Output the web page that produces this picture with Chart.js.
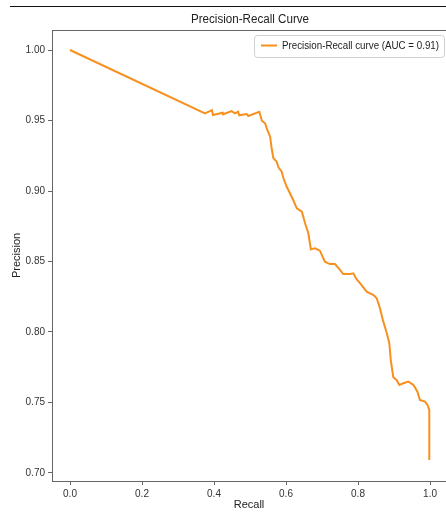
<!DOCTYPE html>
<html>
<head>
<meta charset="utf-8">
<script src="https://cdn.jsdelivr.net/npm/chart.js@4.4.0/dist/chart.umd.min.js"></script>
<style>
  html, body { margin: 0; padding: 0; background: #fff; }
  #wrap { width: 446px; height: 512px; }
</style>
</head>
<body>
<div id="wrap"><canvas id="prChart" width="446" height="512"></canvas></div>
<script>
// Values
const recall = [
  0.000, 0.375, 0.394, 0.397, 0.424, 0.425, 0.449, 0.458, 0.467, 0.470,
  0.491, 0.495, 0.526, 0.533, 0.542, 0.548, 0.556, 0.560, 0.565, 0.574,
  0.579, 0.588, 0.593, 0.602, 0.611, 0.620, 0.630, 0.644, 0.653, 0.662,
  0.669, 0.681, 0.694, 0.708, 0.722, 0.736, 0.750, 0.759, 0.778, 0.787,
  0.796, 0.806, 0.824, 0.843, 0.852, 0.861, 0.869, 0.880, 0.887, 0.891,
  0.898, 0.907, 0.915, 0.926, 0.940, 0.954, 0.965, 0.972, 0.986, 0.993,
  0.998, 0.998
];
const precision = [
  1.000, 0.9551, 0.9574, 0.9539, 0.9555, 0.9544, 0.9567, 0.9551, 0.9562, 0.9537,
  0.9546, 0.9532, 0.9562, 0.9499, 0.9480, 0.9433, 0.9385, 0.9303, 0.9232, 0.9208,
  0.9168, 0.9137, 0.9090, 0.9030, 0.8984, 0.8936, 0.8877, 0.8853, 0.8771, 0.8700,
  0.8587, 0.8594, 0.8577, 0.8499, 0.8482, 0.8482, 0.8440, 0.8411, 0.8411, 0.8416,
  0.8374, 0.8345, 0.8286, 0.8262, 0.8239, 0.8168, 0.8085, 0.7991, 0.7920, 0.7801,
  0.7679, 0.7660, 0.7624, 0.7636, 0.7648, 0.7624, 0.7577, 0.7518, 0.7506, 0.7482,
  0.7447, 0.7092
];
const xTicks = [0.0, 0.2, 0.4, 0.6, 0.8, 1.0];
const yTicks = [0.70, 0.75, 0.80, 0.85, 0.90, 0.95, 1.00];
const titleText = 'Precision-Recall Curve';
const seriesLabel = 'Precision-Recall curve (AUC = 0.91)';

const FONT = 'Liberation Sans';
const ORANGE = '#f7901e';
const SPINE = '#666';

// squeeze text a little horizontally, the source picture is narrow
function narrowText(ctx, text, x, y, width, align) {
  const w = ctx.measureText(text).width;
  const k = width / w;
  ctx.save();
  ctx.translate(align === 'center' ? x - width / 2 : x, y);
  ctx.scale(k, 1);
  ctx.textAlign = 'left';
  ctx.fillText(text, 0, 0);
  ctx.restore();
}

// title, frame, legend box and the stray top rule of the screenshot
const framePlugin = {
  id: 'frame',
  afterDraw(chart) {
    const { ctx, chartArea: a } = chart;
    ctx.save();
    ctx.strokeStyle = '#111';
    ctx.lineWidth = 1;
    ctx.beginPath();
    ctx.moveTo(10, 6.5);
    ctx.lineTo(446, 6.5);
    ctx.stroke();

    ctx.strokeStyle = SPINE;
    ctx.strokeRect(a.left + 0.5, a.top + 0.5, a.right - a.left + 4, a.bottom - a.top);

    // title, centred on the full axes box (it runs past the right edge)
    ctx.fillStyle = '#222';
    ctx.textBaseline = 'middle';
    ctx.font = '12px "' + FONT + '"';
    narrowText(ctx, titleText, 250, 20, 118, 'center');

    // legend
    const bx = 254, by = 35, bw = 190, bh = 22;
    ctx.fillStyle = 'rgba(255,255,255,0.85)';
    ctx.strokeStyle = '#d0d0d0';
    ctx.beginPath();
    ctx.roundRect(bx + 0.5, by + 0.5, bw, bh, 3);
    ctx.fill();
    ctx.stroke();
    ctx.strokeStyle = ORANGE;
    ctx.lineWidth = 2;
    ctx.beginPath();
    ctx.moveTo(261, 45.5);
    ctx.lineTo(277, 45.5);
    ctx.stroke();
    ctx.fillStyle = '#222';
    ctx.font = '11px "' + FONT + '"';
    narrowText(ctx, chart.data.datasets[0].label, 282, 46, 157, 'left');
    ctx.restore();
  }
};

new Chart(document.getElementById('prChart'), {
  type: 'line',
  data: {
    datasets: [{
      label: seriesLabel,
      data: recall.map((r, i) => ({ x: r, y: precision[i] })),
      borderColor: ORANGE,
      borderWidth: 2,
      pointRadius: 0,
      tension: 0,
      fill: false
    }]
  },
  options: {
    responsive: false,
    animation: false,
    layout: { padding: { left: 0, right: 0, top: 30, bottom: 0 }, autoPadding: false },
    plugins: {
      legend: { display: false },
      tooltip: { enabled: false },
      title: { display: false }
    },
    scales: {
      x: {
        type: 'linear',
        min: -0.05,
        max: 1.0444,
        afterBuildTicks: s => { s.ticks = xTicks.map(v => ({ value: v })); },
        afterFit: s => { s.height = 31; },
        ticks: {
          color: '#333',
          padding: 3,
          font: { family: FONT, size: 10 },
          callback: v => v.toFixed(1)
        },
        grid: { drawOnChartArea: false, tickLength: 4, tickColor: SPINE },
        border: { display: true, color: SPINE },
        title: {
          display: true,
          text: 'Recall',
          color: '#222',
          font: { family: FONT, size: 11 },
          padding: { top: 0, bottom: 0 }
        }
      },
      y: {
        type: 'linear',
        min: 0.6943,
        max: 1.0142,
        afterBuildTicks: s => { s.ticks = yTicks.map(v => ({ value: v })); },
        afterFit: s => { s.width = 52; },
        ticks: {
          color: '#333',
          padding: 3,
          font: { family: FONT, size: 10 },
          callback: v => v.toFixed(2)
        },
        grid: { drawOnChartArea: false, tickLength: 4, tickColor: SPINE },
        border: { display: true, color: SPINE },
        title: {
          display: true,
          text: 'Precision',
          color: '#222',
          font: { family: FONT, size: 11 },
          padding: { top: 10, bottom: 0 }
        }
      }
    }
  },
  plugins: [framePlugin]
});
</script>
</body>
</html>
